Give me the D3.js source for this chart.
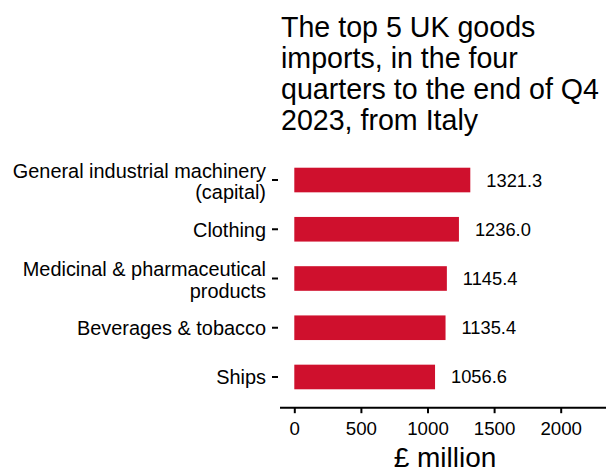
<!DOCTYPE html>
<html>
<head>
<meta charset="utf-8">
<script src="https://cdn.jsdelivr.net/npm/d3@7"></script>
<style>
  html, body { margin: 0; padding: 0; background: #ffffff; }
  svg { display: block; font-family: "Liberation Sans", Arial, sans-serif; }
</style>
</head>
<body>
<svg id="chart" width="606" height="473"></svg>
<script>
const categories = [
  ["General industrial machinery", "(capital)"],
  ["Clothing"],
  ["Medicinal & pharmaceutical", "products"],
  ["Beverages & tobacco"],
  ["Ships"]
];
const values = [1321.3, 1236.0, 1145.4, 1135.4, 1056.6];
const tickValues = [0, 500, 1000, 1500, 2000];
const titleLines = [
  "The top 5 UK goods",
  "imports, in the four",
  "quarters to the end of Q4",
  "2023, from Italy"
];
const axisTitle = "£ million";

const svg = d3.select("#chart");
const data = categories.map((c, i) => ({ label: c, key: c.join(" "), value: values[i] }));

const x = d3.scaleLinear().domain([0, 2000]).range([294.3, 560.7]);
const y = d3.scaleBand().domain(data.map(d => d.key)).range([155.4, 401.6])
  .paddingInner(0.5).paddingOuter(0.25);

// Title
const title = svg.append("text").attr("font-size", 28.6).attr("fill", "#000");
titleLines.forEach((t, i) => {
  title.append("tspan").attr("x", 281).attr("y", 36.5 + i * 31.2).text(t);
});

// Bars
svg.selectAll("rect.bar").data(data).join("rect")
  .attr("class", "bar")
  .attr("x", x(0))
  .attr("y", d => y(d.key))
  .attr("width", d => x(d.value) - x(0))
  .attr("height", y.bandwidth())
  .attr("fill", "#CF102D");

// Value labels
svg.selectAll("text.val").data(data).join("text")
  .attr("class", "val")
  .attr("x", d => x(d.value) + 16)
  .attr("y", d => y(d.key) + y.bandwidth() / 2 + 6.5)
  .attr("font-size", 18.3)
  .attr("fill", "#000")
  .text(d => d.value.toFixed(1));

// Y axis (ticks only, no domain line)
const yAxis = svg.append("g").attr("transform", "translate(278,0)")
  .call(d3.axisLeft(y).tickSize(6).tickFormat(""));
yAxis.select(".domain").remove();
yAxis.selectAll(".tick line").attr("stroke", "#000").attr("stroke-width", 2);

// Y labels
const yl = svg.selectAll("text.ylab").data(data).join("text")
  .attr("class", "ylab")
  .attr("text-anchor", "end")
  .attr("font-size", 19.9)
  .attr("fill", "#000");
yl.each(function(d) {
  const cy = y(d.key) + y.bandwidth() / 2;
  const n = d.label.length;
  const lh = 21.7;
  const base = cy + 7.5 - (n - 1) * lh / 2 + (n - 1) * 1;
  d.label.forEach((t, i) => {
    d3.select(this).append("tspan").attr("x", 266).attr("y", base + i * lh).text(t);
  });
});

// X axis
const xAxis = svg.append("g").attr("transform", "translate(0,407.7)")
  .call(d3.axisBottom(x).tickValues(tickValues).tickFormat(d3.format("d"))
    .tickSize(5.5).tickPadding(4).tickSizeOuter(0));
xAxis.select(".domain").remove();
xAxis.append("line").attr("x1", 280).attr("x2", 606).attr("y1", 0).attr("y2", 0)
  .attr("stroke", "#000").attr("stroke-width", 2);
xAxis.selectAll(".tick line").attr("stroke", "#000").attr("stroke-width", 2);
xAxis.selectAll(".tick text").attr("font-size", 18.7).attr("fill", "#000")
  .attr("font-family", "Liberation Sans, Arial, sans-serif").attr("dy", null).attr("y", 27.3);

// Axis title
svg.append("text").attr("x", 445).attr("y", 467).attr("text-anchor", "middle")
  .attr("font-size", 28).attr("fill", "#000").text(axisTitle);
</script>
</body>
</html>
